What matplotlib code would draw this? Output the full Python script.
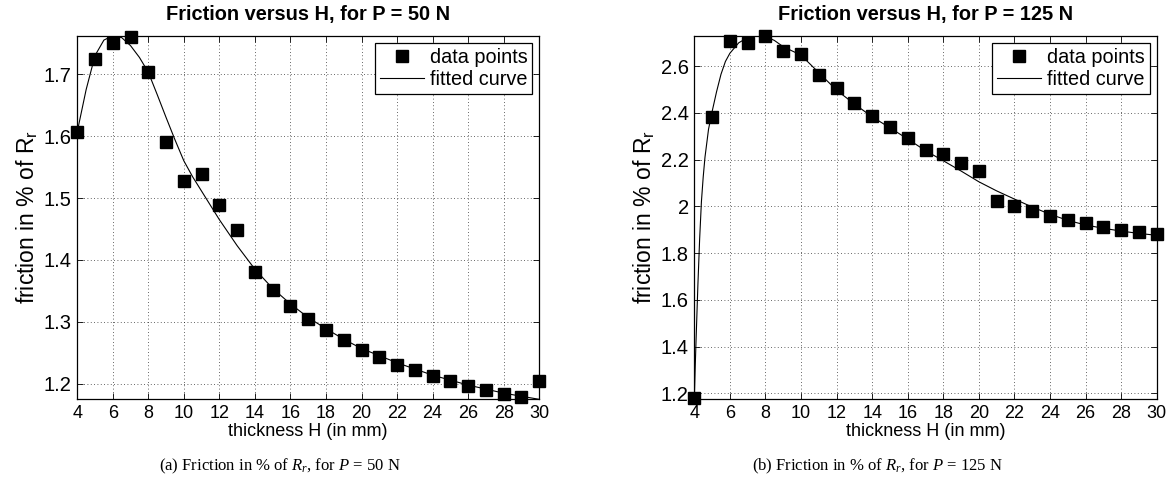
import matplotlib
matplotlib.use("Agg")
import matplotlib.pyplot as plt

# ---------------- data ----------------
thickness = list(range(4, 31))

friction_50 = [1.607, 1.725, 1.750, 1.760, 1.703, 1.591, 1.527, 1.539, 1.489,
               1.448, 1.381, 1.351, 1.326, 1.305, 1.287, 1.270, 1.255, 1.243,
               1.231, 1.222, 1.213, 1.204, 1.197, 1.190, 1.184, 1.179, 1.204]

friction_125 = [1.179, 2.382, 2.708, 2.697, 2.728, 2.666, 2.650, 2.564, 2.506,
                2.442, 2.385, 2.341, 2.291, 2.242, 2.222, 2.187, 2.153, 2.024,
                2.000, 1.979, 1.960, 1.943, 1.927, 1.913, 1.900, 1.889, 1.880]

# fitted curves
fit_x_50 = [4, 4.5, 5, 5.5, 6, 6.5, 7, 7.5, 8, 8.5, 9, 9.5, 10, 10.5, 11, 12, 13,
            14, 15, 16, 17, 18, 19, 20, 22, 24, 26, 28, 30]
fit_y_50 = [1.607, 1.675, 1.730, 1.755, 1.762, 1.759, 1.746, 1.727, 1.703, 1.667,
            1.630, 1.594, 1.560, 1.534, 1.511, 1.465, 1.423, 1.385, 1.354, 1.329,
            1.307, 1.289, 1.272, 1.257, 1.234, 1.214, 1.198, 1.185, 1.175]

fit_x_125 = [4.0, 4.05, 4.1, 4.2, 4.3, 4.4, 4.5, 4.6, 4.8, 5.0, 5.25, 5.5, 5.75,
             6.0, 6.5, 7.0, 7.5, 8.0, 8.5, 9, 10, 11, 12, 13, 14, 15, 16, 17,
             18, 19, 20, 21, 22, 23, 24, 25, 26, 27, 28, 29, 30]
fit_y_125 = [1.174, 1.31, 1.43, 1.66, 1.86, 2.02, 2.125, 2.21, 2.33, 2.405, 2.49,
             2.565, 2.62, 2.655, 2.700, 2.722, 2.730, 2.727, 2.710, 2.683, 2.647,
             2.572, 2.497, 2.438, 2.383, 2.336, 2.288, 2.238, 2.195, 2.151, 2.105,
             2.066, 2.031, 1.997, 1.966, 1.940, 1.920, 1.906, 1.894, 1.884, 1.876]

titles = ["Friction versus H, for P = 50 N", "Friction versus H, for P = 125 N"]
captions = [r"(a) Friction in % of $R_r$, for $P$ = 50 N",
            r"(b) Friction in % of $R_r$, for $P$ = 125 N"]
xticks = list(range(4, 31, 2))
yticks_50 = [1.2, 1.3, 1.4, 1.5, 1.6, 1.7]
yticks_125 = [1.2, 1.4, 1.6, 1.8, 2.0, 2.2, 2.4, 2.6]
ytick_labels_125 = ["1.2", "1.4", "1.6", "1.8", "2", "2.2", "2.4", "2.6"]
ylim_50 = (1.175, 1.762)
ylim_125 = (1.174, 2.730)

# ---------------- style ----------------
plt.rcParams['font.family'] = ['Liberation Sans', 'DejaVu Sans']
plt.rcParams['mathtext.fontset'] = 'custom'
plt.rcParams['mathtext.rm'] = 'Liberation Serif'
plt.rcParams['mathtext.it'] = 'Liberation Serif:italic'

fig = plt.figure(figsize=(11.74, 4.91), dpi=100)

axes_specs = [
    (0.0658, 0.1867, 0.3935, 0.7405),
    (0.5914, 0.1867, 0.3939, 0.7405),
]

datasets = [
    (friction_50, fit_x_50, fit_y_50, yticks_50, None, ylim_50),
    (friction_125, fit_x_125, fit_y_125, yticks_125, ytick_labels_125, ylim_125),
]

for i, (spec, (pts, fx, fy, yt, ytl, yl)) in enumerate(zip(axes_specs, datasets)):
    ax = fig.add_axes(spec)
    ax.plot(thickness, pts, 's', color='black', markersize=8.5, label='data points',
            zorder=3, clip_on=False)
    ax.plot(fx, fy, '-', color='black', linewidth=0.8, label='fitted curve', zorder=2)
    ax.set_xlim(4, 30)
    ax.set_ylim(*yl)
    ax.set_xticks(xticks)
    ax.set_yticks(yt)
    if ytl is not None:
        ax.set_yticklabels(ytl)
    ax.tick_params(direction='in', top=True, right=True, length=4,
                   width=0.6, pad=4)
    ax.tick_params(axis='x', labelsize=13)
    ax.tick_params(axis='y', labelsize=14.5)
    ax.grid(True, linestyle=(0, (1, 3)), color='black', linewidth=0.6, alpha=0.8)
    for s in ax.spines.values():
        s.set_linewidth(0.9)
    ax.set_title(titles[i], fontsize=14.4, fontweight='bold', pad=11)
    ax.set_xlabel('thickness H (in mm)', fontsize=13, labelpad=1)
    ax.set_ylabel(r'friction in % of R$_\mathregular{r}$', fontsize=16.5, labelpad=3)
    leg = ax.legend(loc='upper right', fontsize=14.3, frameon=True, fancybox=False,
                    edgecolor='black', framealpha=1, handlelength=2.2,
                    handletextpad=0.3, borderpad=0.25, labelspacing=0.15,
                    borderaxespad=0.35)
    leg.get_frame().set_linewidth(0.9)

fig.text(0.238, 0.051, captions[0], ha='center', va='center', fontsize=12,
         family='Liberation Serif')
fig.text(0.747, 0.051, captions[1], ha='center', va='center', fontsize=12,
         family='Liberation Serif')

fig.savefig('out.png', dpi=100)
